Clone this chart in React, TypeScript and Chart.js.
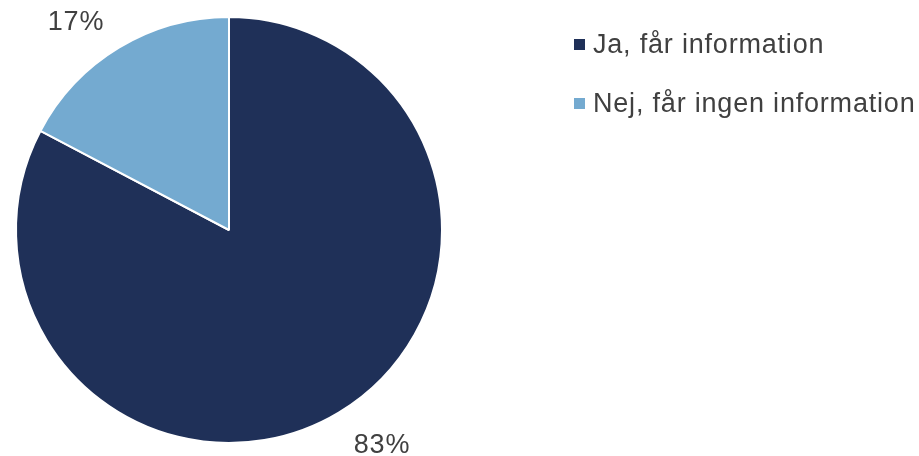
import React, { useEffect, useRef } from "react";
import { Chart, registerables } from "chart.js";

Chart.register(...registerables);

const categories: string[] = ["Ja, får information", "Nej, får ingen information"];
const shares: number[] = [82.7, 17.3];
const valueLabels: string[] = ["83%", "17%"];
const sliceColors: string[] = ["#1F3058", "#74AAD0"];

const FONT = "27px 'Liberation Sans', Arial, sans-serif";
const TEXT_COLOR = "#404040";

const overlayPlugin = {
  id: "overlay",
  afterDraw(chart: any) {
    const ctx = chart.ctx as CanvasRenderingContext2D;
    const meta = chart.getDatasetMeta(0);
    ctx.save();
    ctx.font = FONT;
    (ctx as any).letterSpacing = "0.8px";
    ctx.fillStyle = TEXT_COLOR;
    ctx.textBaseline = "alphabetic";
    // data labels, placed relative to the pie center
    const offsets = [
      [153, 223],
      [-153, -200],
    ];
    meta.data.forEach((arc: any, i: number) => {
      const { x, y } = arc.getProps(["x", "y"], true);
      ctx.textAlign = "center";
      ctx.fillText(valueLabels[i], x + offsets[i][0], y + offsets[i][1]);
    });
    // legend
    const lx = 574;
    const ly0 = 53;
    const rowGap = 59;
    categories.forEach((c, i) => {
      const by = ly0 + i * rowGap;
      ctx.fillStyle = sliceColors[i];
      ctx.fillRect(lx, by - 14, 11, 11);
      ctx.fillStyle = TEXT_COLOR;
      ctx.textAlign = "left";
      ctx.fillText(c, lx + 19, by);
    });
    ctx.restore();
  },
};

export default function App() {
  const ref = useRef<HTMLCanvasElement | null>(null);
  useEffect(() => {
    document.body.style.margin = "0";
    if (!ref.current) return;
    const chart = new Chart(ref.current, {
      type: "pie",
      data: {
        labels: categories,
        datasets: [
          {
            data: shares,
            backgroundColor: sliceColors,
            borderColor: "#ffffff",
            borderWidth: 2,
          },
        ],
      },
      options: {
        responsive: false,
        animation: false,
        layout: { padding: { left: 15, top: 16, right: 476, bottom: 12 } },
        plugins: {
          legend: { display: false },
          tooltip: { enabled: false },
        },
      },
      plugins: [overlayPlugin],
    });
    return () => chart.destroy();
  }, []);
  return (
    <div style={{ position: "absolute", left: 0, top: 0, width: 919, height: 456, background: "#fff" }}>
      <canvas ref={ref} width={919} height={456} />
    </div>
  );
}
